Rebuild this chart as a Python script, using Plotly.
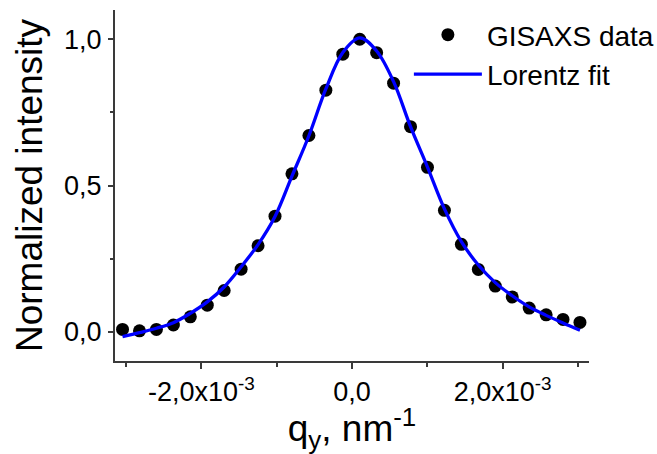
import plotly.graph_objects as go

# GISAXS data (q_y in nm^-1, normalized intensity)
q_data = [-3.046e-3, -2.821e-3, -2.596e-3, -2.371e-3, -2.146e-3, -1.921e-3, -1.697e-3,
          -1.472e-3, -1.247e-3, -1.022e-3, -0.797e-3, -0.572e-3, -0.347e-3, -0.122e-3,
          0.103e-3, 0.327e-3, 0.552e-3, 0.777e-3, 1.002e-3, 1.227e-3, 1.452e-3,
          1.677e-3, 1.902e-3, 2.127e-3, 2.352e-3, 2.577e-3, 2.801e-3, 3.026e-3]
i_data = [0.008, 0.003, 0.008, 0.023, 0.051, 0.091, 0.141, 0.214, 0.294, 0.395,
          0.540, 0.671, 0.826, 0.949, 1.000, 0.954, 0.850, 0.701, 0.562, 0.415,
          0.299, 0.213, 0.156, 0.119, 0.081, 0.058, 0.042, 0.032]

# Lorentz fit curve samples
q_fit = [-3.046e-3, -2.821e-3, -2.596e-3, -2.371e-3, -2.146e-3, -1.921e-3, -1.697e-3,
         -1.472e-3, -1.247e-3, -1.022e-3, -0.797e-3, -0.572e-3, -0.347e-3, -0.122e-3,
         0.103e-3, 0.327e-3, 0.552e-3, 0.777e-3, 1.002e-3, 1.227e-3, 1.452e-3,
         1.677e-3, 1.902e-3, 2.127e-3, 2.352e-3, 2.577e-3, 2.801e-3, 3.026e-3]
i_fit = [-0.017, -0.003, 0.012, 0.031, 0.063, 0.102, 0.153, 0.222, 0.298, 0.394,
         0.532, 0.670, 0.830, 0.955, 1.005, 0.960, 0.855, 0.701, 0.563, 0.420,
         0.308, 0.228, 0.168, 0.123, 0.085, 0.056, 0.030, 0.005]

x_tickvals = [-2e-3, 0.0, 2e-3]
x_ticktext = ["-2,0x10<sup>-3</sup>", "0,0", "2,0x10<sup>-3</sup>"]
y_tickvals = [0.0, 0.5, 1.0]
y_ticktext = ["0,0", "0,5", "1,0"]

FONT = "Arial, Liberation Sans, sans-serif"
AXIS_COLOR = "#3a3a3a"

fig = go.Figure()
fig.add_trace(go.Scatter(
    x=q_data, y=i_data, mode="markers", name="GISAXS data",
    marker=dict(color="black", size=13, symbol="circle"),
))
fig.add_trace(go.Scatter(
    x=q_fit, y=i_fit, mode="lines", name="Lorentz fit",
    line=dict(color="#0000ff", width=3.3, shape="spline", smoothing=1.0),
))

fig.update_layout(
    width=657, height=454,
    margin=dict(l=115, r=68, t=10, b=93, autoexpand=False),
    paper_bgcolor="white", plot_bgcolor="white",
    font=dict(family=FONT, color="black"),
    showlegend=True,
    legend=dict(
        x=0.62, y=1.0, xanchor="left", yanchor="top",
        bgcolor="rgba(0,0,0,0)", borderwidth=0,
        font=dict(size=28, family=FONT, color="black"),
        itemwidth=68, tracegroupgap=0,
    ),
)
fig.update_xaxes(
    range=[-3.146e-3, 3.146e-3],
    tickmode="array", tickvals=x_tickvals, ticktext=x_ticktext,
    ticks="outside", ticklen=6, tickwidth=1.5, tickcolor=AXIS_COLOR,
    minor=dict(tickmode="linear", tick0=-3e-3, dtick=1e-3, ticks="outside",
               ticklen=4, tickwidth=1.5, tickcolor=AXIS_COLOR),
    showline=True, linewidth=2, linecolor=AXIS_COLOR,
    showgrid=False, zeroline=False,
    tickfont=dict(size=27, family=FONT, color="black"),
    title=dict(text="q<sub>y</sub>, nm<sup>-1</sup>", font=dict(size=37, family=FONT, color="black"),
               standoff=6),
)
fig.update_yaxes(
    range=[-0.1, 1.1],
    tickmode="array", tickvals=y_tickvals, ticktext=y_ticktext,
    ticks="outside", ticklen=5, tickwidth=1.5, tickcolor=AXIS_COLOR,
    minor=dict(tickmode="linear", tick0=0, dtick=0.25, ticks="outside",
               ticklen=3, tickwidth=1.5, tickcolor=AXIS_COLOR),
    showline=True, linewidth=2, linecolor=AXIS_COLOR,
    showgrid=False, zeroline=False,
    tickfont=dict(size=27, family=FONT, color="black"),
    ticklabelstandoff=1,
    title=dict(text="Normalized intensity", font=dict(size=37, family=FONT, color="black"),
               standoff=10),
)

fig.write_html("out.html")
